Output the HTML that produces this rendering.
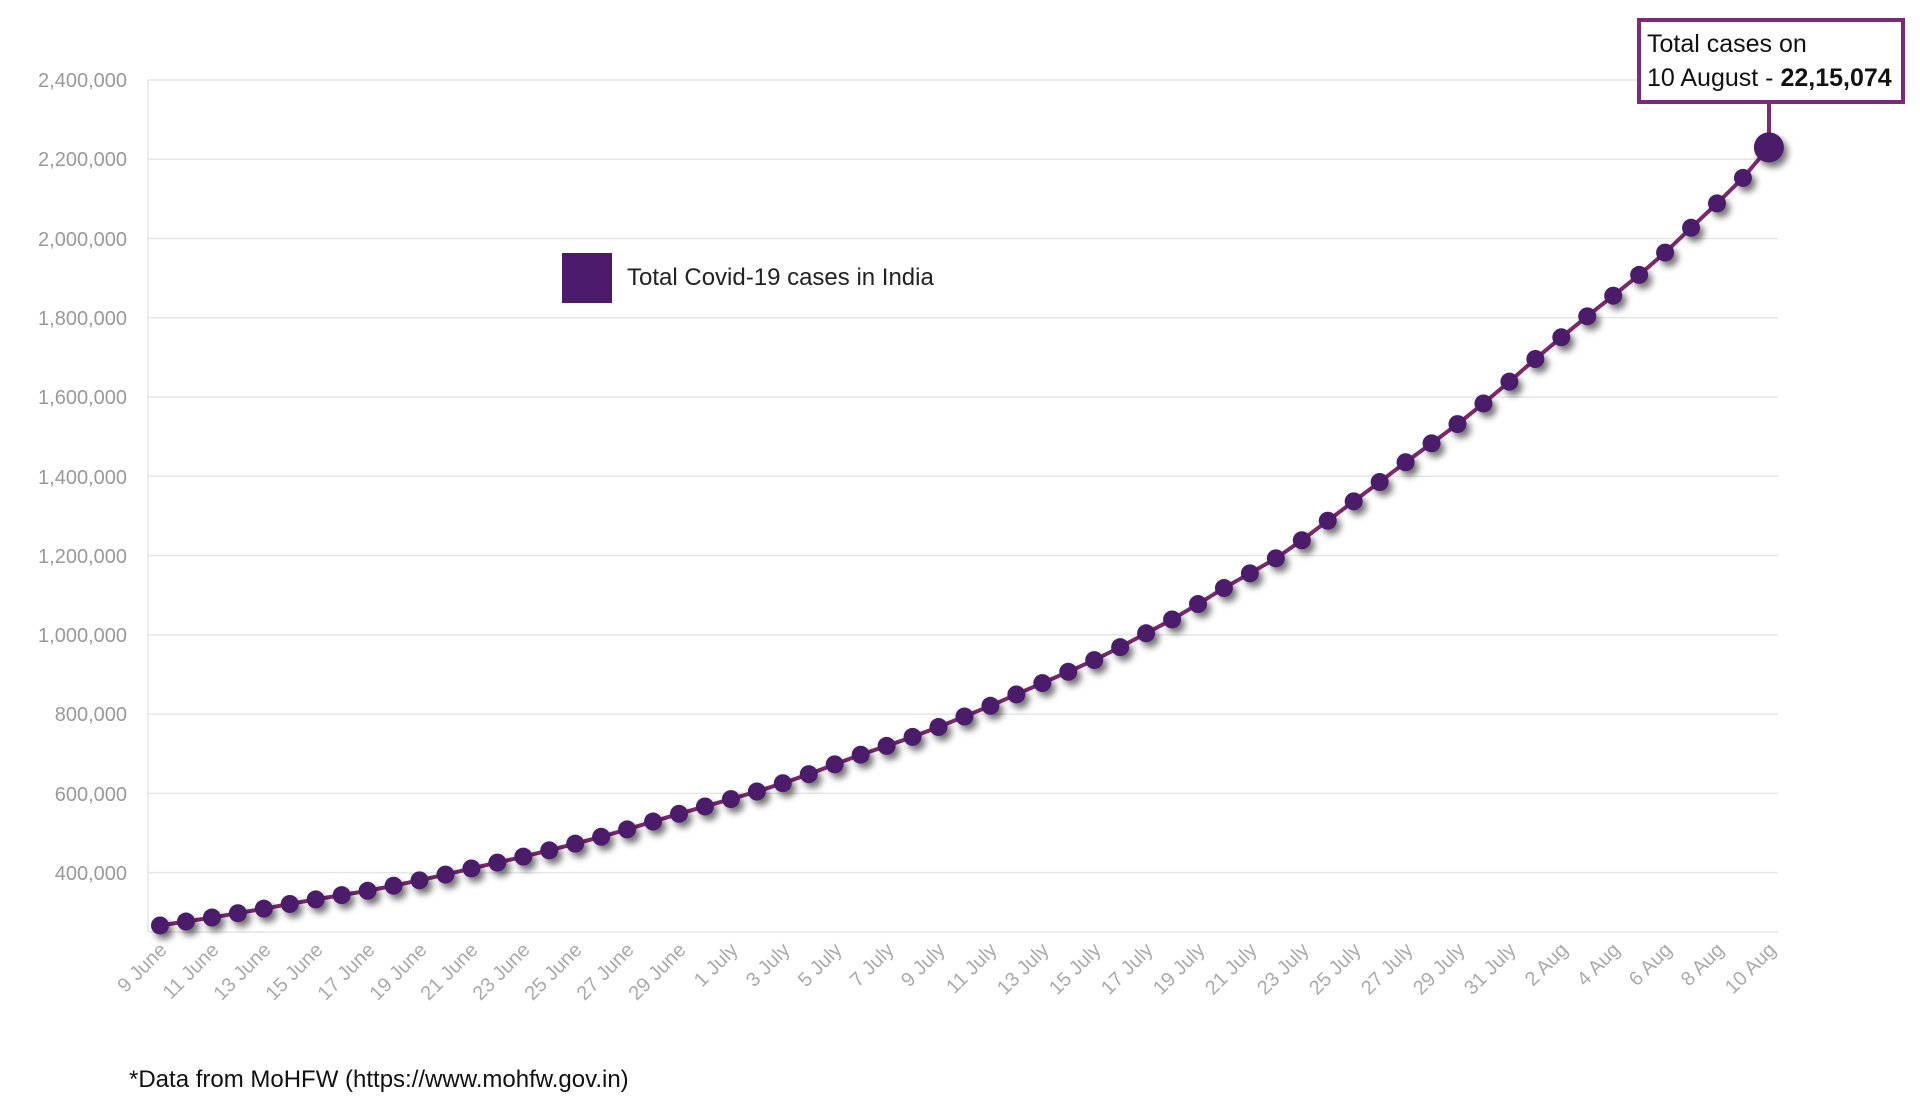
<!DOCTYPE html>
<html><head><meta charset="utf-8"><style>
html,body{margin:0;padding:0;background:#fff;}
svg{display:block;font-family:"Liberation Sans",sans-serif;}
</style></head><body>
<svg id="s" width="1920" height="1103" viewBox="0 0 1920 1103" xmlns="http://www.w3.org/2000/svg">
<defs><filter id="sh" x="-50%" y="-50%" width="220%" height="220%"><feDropShadow dx="4" dy="5" stdDeviation="3.5" flood-color="#000" flood-opacity="0.55"/></filter></defs>
<g id="grid" stroke="#e6e6e6" stroke-width="1.5"></g>
<line x1="148" y1="80" x2="148" y2="932" stroke="#e6e6e6" stroke-width="1.5"/>
<g fill="#999" font-size="20" text-anchor="end">
<text x="127" y="87">2,400,000</text><text x="127" y="166">2,200,000</text><text x="127" y="246">2,000,000</text><text x="127" y="325">1,800,000</text><text x="127" y="404">1,600,000</text><text x="127" y="484">1,400,000</text><text x="127" y="563">1,200,000</text><text x="127" y="642">1,000,000</text><text x="127" y="721">800,000</text><text x="127" y="801">600,000</text><text x="127" y="880">400,000</text>
</g>
<g fill="#aaa" font-size="20" text-anchor="end">
<text transform="translate(168,951) rotate(-45)">9 June</text>
<text transform="translate(220,951) rotate(-45)">11 June</text>
<text transform="translate(272,951) rotate(-45)">13 June</text>
<text transform="translate(324,951) rotate(-45)">15 June</text>
<text transform="translate(376,951) rotate(-45)">17 June</text>
<text transform="translate(428,951) rotate(-45)">19 June</text>
<text transform="translate(479,951) rotate(-45)">21 June</text>
<text transform="translate(531,951) rotate(-45)">23 June</text>
<text transform="translate(583,951) rotate(-45)">25 June</text>
<text transform="translate(635,951) rotate(-45)">27 June</text>
<text transform="translate(687,951) rotate(-45)">29 June</text>
<text transform="translate(739,951) rotate(-45)">1 July</text>
<text transform="translate(791,951) rotate(-45)">3 July</text>
<text transform="translate(843,951) rotate(-45)">5 July</text>
<text transform="translate(895,951) rotate(-45)">7 July</text>
<text transform="translate(946,951) rotate(-45)">9 July</text>
<text transform="translate(998,951) rotate(-45)">11 July</text>
<text transform="translate(1050,951) rotate(-45)">13 July</text>
<text transform="translate(1102,951) rotate(-45)">15 July</text>
<text transform="translate(1154,951) rotate(-45)">17 July</text>
<text transform="translate(1206,951) rotate(-45)">19 July</text>
<text transform="translate(1258,951) rotate(-45)">21 July</text>
<text transform="translate(1310,951) rotate(-45)">23 July</text>
<text transform="translate(1362,951) rotate(-45)">25 July</text>
<text transform="translate(1414,951) rotate(-45)">27 July</text>
<text transform="translate(1466,951) rotate(-45)">29 July</text>
<text transform="translate(1517,951) rotate(-45)">31 July</text>
<text transform="translate(1569,951) rotate(-45)">2 Aug</text>
<text transform="translate(1621,951) rotate(-45)">4 Aug</text>
<text transform="translate(1673,951) rotate(-45)">6 Aug</text>
<text transform="translate(1725,951) rotate(-45)">8 Aug</text>
<text transform="translate(1777,951) rotate(-45)">10 Aug</text>
</g>
<rect x="562" y="253" width="50" height="50" fill="#4b1a6b"/>
<text x="627" y="285" font-size="24" fill="#222">Total Covid-19 cases in India</text>
<line x1="1769" y1="103" x2="1769" y2="148" stroke="#7b2a7b" stroke-width="4"/>
<polyline id="ln" fill="none" stroke="#7a2a6a" stroke-width="4"/>
<g id="dots" fill="#4b1a6b" filter="url(#sh)"></g>
<rect x="1639" y="20" width="264" height="82" fill="#fff" stroke="#7b2a7b" stroke-width="4"/>
<text x="1647" y="52" font-size="25" fill="#111">Total cases on</text>
<text x="1647" y="86" font-size="25" fill="#111">10 August - <tspan font-weight="bold">22,15,074</tspan></text>
<text x="129" y="1087" font-size="24" fill="#111">*Data from MoHFW (https://www.mohfw.gov.in)</text>
</svg>
<script>
var d=[266598,276583,286579,297535,308993,320922,332424,343091,354065,366946,380532,395048,410461,425282,440215,456183,473105,490401,508953,528859,548318,566840,585493,604641,625544,648315,673165,697413,719665,742417,767296,793802,820916,849553,878254,906752,936181,968876,1003832,1038716,1077618,1118043,1155191,1192915,1238635,1287945,1336861,1385522,1435453,1483156,1531669,1583792,1638870,1695988,1750723,1803695,1855745,1908254,1964536,2027074,2088611,2153010,2230000];
var ns="http://www.w3.org/2000/svg";
function Y(v){return 80+(2400000-v)/200000*79.26;}
var g=document.getElementById('grid');
for(var k=0;k<=10;k++){var l=document.createElementNS(ns,'line');var y=Y(2400000-k*200000);l.setAttribute('x1',148);l.setAttribute('x2',1778);l.setAttribute('y1',y);l.setAttribute('y2',y);g.appendChild(l);}
var l=document.createElementNS(ns,'line');l.setAttribute('x1',148);l.setAttribute('x2',1778);l.setAttribute('y1',932);l.setAttribute('y2',932);g.appendChild(l);
var pts=[],dg=document.getElementById('dots');
for(var i=0;i<d.length;i++){var x=160+i*25.95,y=Y(d[i]);pts.push(x+','+y);
var c=document.createElementNS(ns,'circle');c.setAttribute('cx',x);c.setAttribute('cy',y);c.setAttribute('r',i==d.length-1?15:9);dg.appendChild(c);}
document.getElementById('ln').setAttribute('points',pts.join(' '));
</script>
</body></html>
